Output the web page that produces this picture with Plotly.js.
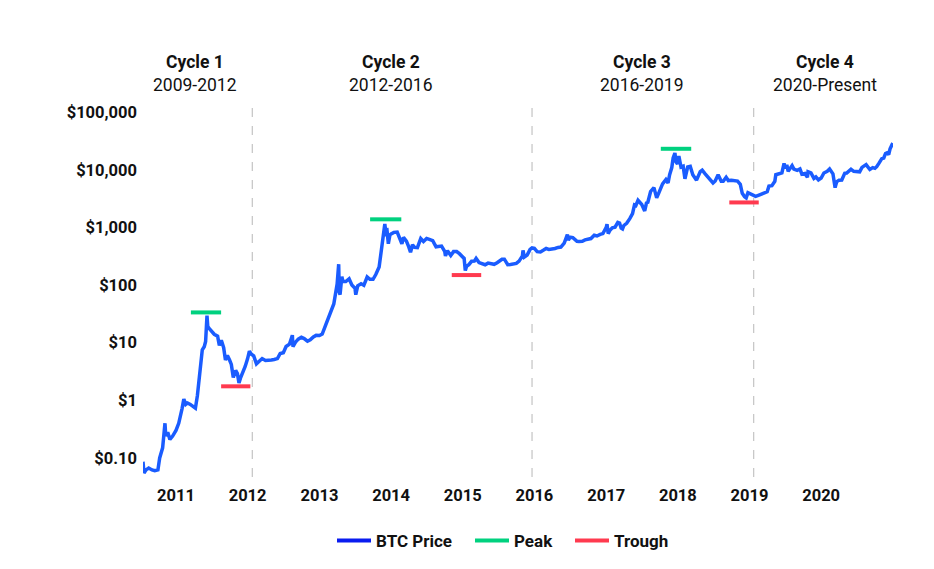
<!DOCTYPE html>
<html>
<head>
<meta charset="utf-8">
<script src="https://cdn.plot.ly/plotly-3.0.1.min.js"></script>
<style>html,body{margin:0;padding:0;background:#fff;}#chart{width:934px;height:569px;}</style>
</head>
<body>
<div id="chart"></div>
<script>
// BTC price (USD)
var btcDates = [
"2010-07-17","2010-07-22","2010-08-01","2010-08-15","2010-09-01","2010-09-15","2010-10-01","2010-10-10","2010-10-25","2010-11-06","2010-11-10","2010-11-20","2010-12-01","2010-12-15",
"2011-01-01","2011-01-15","2011-02-01","2011-02-10","2011-02-20","2011-03-01","2011-03-15","2011-03-28","2011-04-10","2011-04-20","2011-05-01","2011-05-15","2011-05-25","2011-06-01","2011-06-08","2011-06-12","2011-06-20","2011-07-01","2011-07-15","2011-08-01","2011-08-10","2011-08-20","2011-09-01","2011-09-10","2011-09-20","2011-10-01","2011-10-10","2011-10-20","2011-11-01","2011-11-10","2011-11-18","2011-11-25","2011-12-05","2011-12-20",
"2012-01-01","2012-01-10","2012-01-20","2012-02-01","2012-02-15","2012-03-01","2012-03-15","2012-04-01","2012-04-15","2012-05-01","2012-05-15","2012-06-01","2012-06-15","2012-07-01","2012-07-15","2012-08-01","2012-08-16","2012-08-19","2012-09-01","2012-09-15","2012-10-01","2012-10-15","2012-11-01","2012-11-15","2012-12-01","2012-12-15",
"2013-01-01","2013-01-15","2013-02-01","2013-02-15","2013-03-01","2013-03-15","2013-04-01","2013-04-09","2013-04-12","2013-04-16","2013-04-25","2013-05-01","2013-05-15","2013-06-01","2013-06-15","2013-07-01","2013-07-05","2013-07-15","2013-08-01","2013-08-15","2013-09-01","2013-09-15","2013-10-01","2013-10-15","2013-11-01","2013-11-10","2013-11-18","2013-11-24","2013-11-30","2013-12-07","2013-12-10","2013-12-18","2013-12-26",
"2014-01-01","2014-01-15","2014-02-01","2014-02-15","2014-02-25","2014-03-05","2014-03-20","2014-04-01","2014-04-10","2014-04-20","2014-05-01","2014-05-15","2014-06-01","2014-06-15","2014-07-01","2014-07-15","2014-08-01","2014-08-18","2014-09-01","2014-09-15","2014-10-01","2014-10-05","2014-10-15","2014-11-01","2014-11-15","2014-12-01","2014-12-15",
"2015-01-01","2015-01-08","2015-01-14","2015-01-20","2015-02-01","2015-02-15","2015-03-01","2015-03-10","2015-03-25","2015-04-10","2015-04-25","2015-05-10","2015-05-25","2015-06-10","2015-06-25","2015-07-10","2015-07-20","2015-08-01","2015-08-18","2015-09-01","2015-09-15","2015-10-01","2015-10-15","2015-11-01","2015-11-04","2015-11-11","2015-11-25","2015-12-10","2015-12-20",
"2016-01-01","2016-01-15","2016-02-01","2016-02-15","2016-03-01","2016-03-15","2016-04-01","2016-04-15","2016-05-01","2016-05-15","2016-06-01","2016-06-17","2016-06-22","2016-07-01","2016-07-15","2016-08-01","2016-08-05","2016-08-15","2016-09-01","2016-09-15","2016-10-01","2016-10-15","2016-11-01","2016-11-15","2016-12-01","2016-12-15",
"2017-01-01","2017-01-05","2017-01-11","2017-01-20","2017-02-01","2017-02-15","2017-03-01","2017-03-10","2017-03-18","2017-03-25","2017-04-01","2017-04-15","2017-05-01","2017-05-15","2017-05-25","2017-06-01","2017-06-12","2017-06-20","2017-07-01","2017-07-16","2017-07-25","2017-08-01","2017-08-15","2017-09-01","2017-09-15","2017-09-25","2017-10-01","2017-10-15","2017-11-01","2017-11-12","2017-11-20","2017-12-01","2017-12-08","2017-12-17","2017-12-22","2017-12-30",
"2018-01-06","2018-01-17","2018-01-28","2018-02-06","2018-02-20","2018-03-05","2018-03-18","2018-04-01","2018-04-06","2018-04-25","2018-05-05","2018-05-20","2018-06-01","2018-06-15","2018-06-29","2018-07-10","2018-07-25","2018-08-10","2018-08-20","2018-09-04","2018-09-15","2018-10-01","2018-10-15","2018-11-01","2018-11-15","2018-11-25","2018-12-07","2018-12-15","2018-12-24",
"2019-01-05","2019-01-15","2019-02-01","2019-02-15","2019-03-01","2019-03-15","2019-04-01","2019-04-10","2019-04-25","2019-05-10","2019-05-15","2019-06-01","2019-06-15","2019-06-26","2019-07-02","2019-07-10","2019-07-17","2019-08-06","2019-08-15","2019-09-01","2019-09-15","2019-09-25","2019-10-10","2019-10-23","2019-10-26","2019-11-10","2019-11-25","2019-12-05","2019-12-18",
"2020-01-01","2020-01-15","2020-02-01","2020-02-13","2020-03-01","2020-03-12","2020-03-20","2020-04-01","2020-04-15","2020-04-30","2020-05-10","2020-05-20","2020-06-01","2020-06-15","2020-07-01","2020-07-15","2020-07-27","2020-08-10","2020-08-17","2020-09-05","2020-09-20","2020-10-01","2020-10-10","2020-10-21","2020-11-05","2020-11-15","2020-11-24","2020-12-01","2020-12-10","2020-12-17","2020-12-27","2020-12-31"
];
var btcPrices = [
0.086,0.055,0.062,0.067,0.062,0.060,0.062,0.10,0.15,0.40,0.24,0.28,0.21,0.24,
0.30,0.40,0.72,1.05,0.85,0.90,0.85,0.77,0.73,1.2,3.0,7.5,8.5,10.5,29.6,19,17.5,16,14,13,9,11,8.2,5,6,5,4.2,2.5,3.3,2.9,2.0,2.4,2.9,3.9,
5.3,7.1,6.3,5.9,4.3,4.9,5.3,4.9,4.9,5.0,5.1,5.3,6.5,6.7,8.6,9.4,13.5,8.5,10.2,11.5,12.4,11.8,10.6,11.2,12.6,13.4,
13.3,14.1,20,27,34,47,104,230,75,68,140,115,115,128,100,88,68,97,105,99,138,126,126,152,205,345,700,800,1150,700,975,520,740,
770,820,830,640,520,670,580,460,370,500,450,445,640,570,640,620,590,460,475,475,385,320,395,325,380,380,350,
315,290,178,210,226,258,260,290,245,235,225,240,238,229,244,270,280,281,225,228,230,237,260,320,400,305,330,415,440,
432,380,375,400,430,415,417,430,450,455,535,750,600,675,665,610,575,570,575,607,615,640,730,710,755,780,
1000,1135,780,895,985,1010,1220,1190,970,940,1080,1180,1420,1740,2450,2400,2950,2700,2500,1930,2650,2730,4200,4900,3250,3900,4400,5700,6750,5900,8200,10900,16000,19500,13800,12600,
17200,11100,11500,6950,11200,11500,8200,6850,6600,9300,9850,8500,7500,6500,5900,6400,8200,6300,6300,7400,6500,6600,6400,6350,5600,3900,3400,3250,4000,
3800,3600,3450,3600,3820,3930,4150,5200,5300,6300,8200,8600,8800,12900,10600,12100,9400,11800,10300,9750,10300,8400,8600,7400,9250,8800,7100,7500,6650,
7200,8800,9400,10300,8500,4900,6200,6600,6650,8650,8750,9500,10200,9400,9200,9200,11000,11900,12300,10100,10900,10600,11300,12900,15600,16000,19200,19700,18300,23100,26300,29000
];

// Cycle peaks and troughs (start date, end date, level)
var peakStarts  = ["2011-03-18","2013-09-16","2017-10-06"];
var peakEnds    = ["2011-08-19","2014-02-22","2018-03-10"];
var peakLevels  = [33.5, 1380, 23100];
var troughStarts = ["2011-08-19","2014-11-06","2018-09-20"];
var troughEnds   = ["2012-01-15","2015-04-05","2019-02-17"];
var troughLevels = [1.75, 149, 2710];

// Cycle boundaries
var cycleBoundaries = ["2012-01-25","2015-12-20","2019-01-22"];

// Cycle labels
var cycleNames  = ["Cycle 1","Cycle 2","Cycle 3","Cycle 4"];
var cycleRanges = ["2009-2012","2012-2016","2016-2019","2020-Present"];
var cycleCenters = ["2011-04-10","2014-01-01","2017-07-01","2020-01-22"];

// Axis ticks
var yTickVals = [0.1, 1, 10, 100, 1000, 10000, 100000];
var yTickText = ["$0.10","$1","$10","$100","$1,000","$10,000","$100,000"];
var xTickVals = ["2011-01-01","2012-01-01","2013-01-01","2014-01-01","2015-01-01","2016-01-01","2017-01-01","2018-01-01","2019-01-01","2020-01-01"];
var xTickText = ["2011","2012","2013","2014","2015","2016","2017","2018","2019","2020"];

var BLUE = "#1a5cff", GREEN = "#00d17f", RED = "#ff3a4f";

function segs(starts, ends, levels){
  var x = [], y = [];
  for (var i = 0; i < starts.length; i++){
    x.push(starts[i], ends[i], null);
    y.push(levels[i], levels[i], null);
  }
  return {x: x, y: y};
}
var pk = segs(peakStarts, peakEnds, peakLevels);
var tr = segs(troughStarts, troughEnds, troughLevels);

var traces = [
  {x: btcDates, y: btcPrices, type: "scatter", mode: "lines", name: "BTC Price", showlegend: false,
   line: {color: BLUE, width: 3.5}, hoverinfo: "x+y"},
  {x: [null], y: [null], type: "scatter", mode: "lines", name: "BTC Price", legend: "legend",
   line: {color: "#0a1cf0", width: 4}},
  {x: pk.x, y: pk.y, type: "scatter", mode: "lines", name: "Peak", legend: "legend2",
   line: {color: GREEN, width: 4}},
  {x: tr.x, y: tr.y, type: "scatter", mode: "lines", name: "Trough", legend: "legend3",
   line: {color: RED, width: 4}}
];

var shapes = cycleBoundaries.map(function(d){
  return {type: "line", xref: "x", yref: "paper", x0: d, x1: d, y0: 0, y1: 1,
          line: {color: "#c8c8c8", width: 1.3, dash: "dash"}, layer: "below"};
});

var annotations = [];
for (var i = 0; i < cycleNames.length; i++){
  annotations.push({xref: "x", yref: "paper", x: cycleCenters[i], y: 1.101, yanchor: "middle", xanchor: "center",
    text: "<b>" + cycleNames[i] + "</b>", showarrow: false, font: {family: "Roboto", size: 17.5, color: "#111"}});
  annotations.push({xref: "x", yref: "paper", x: cycleCenters[i], y: 1.04, yanchor: "middle", xanchor: "center",
    text: cycleRanges[i], showarrow: false, font: {family: "Roboto", size: 17.5, color: "#111"}});
}

function leg(px){
  return {orientation: "h", xref: "container", yref: "container", x: px / 934, xanchor: "left",
          y: 1 - 541 / 569, yanchor: "middle",
          font: {family: "Roboto", size: 17, color: "#111", weight: "bold"}, itemwidth: 34,
          bgcolor: "rgba(0,0,0,0)", borderwidth: 0};
}

var layout = {
  width: 934, height: 569,
  margin: {l: 143, r: 41, t: 100, b: 92, autoexpand: false},
  paper_bgcolor: "#fff", plot_bgcolor: "#fff",
  font: {family: "Roboto", size: 15, color: "#111"},
  showlegend: true,
  legend: leg(332), legend2: leg(470), legend3: leg(570),
  xaxis: {type: "date", range: ["2010-07-17", "2021-01-01"], showgrid: false, zeroline: false, showline: false,
          automargin: false,
          tickvals: xTickVals, ticktext: xTickText, ticks: "", ticklabelstandoff: 6,
          tickfont: {family: "Roboto", size: 16.5, color: "#111", weight: "bold"}},
  yaxis: {type: "log", range: [-1.33, 5.21], showgrid: false, zeroline: false, showline: false,
          automargin: false,
          tickvals: yTickVals, ticktext: yTickText, ticks: "", ticklabelstandoff: 5,
          tickfont: {family: "Roboto", size: 16.5, color: "#111", weight: "bold"}},
  shapes: shapes,
  annotations: annotations
};

Plotly.newPlot("chart", traces, layout, {displayModeBar: false, staticPlot: true});
</script>
</body>
</html>
